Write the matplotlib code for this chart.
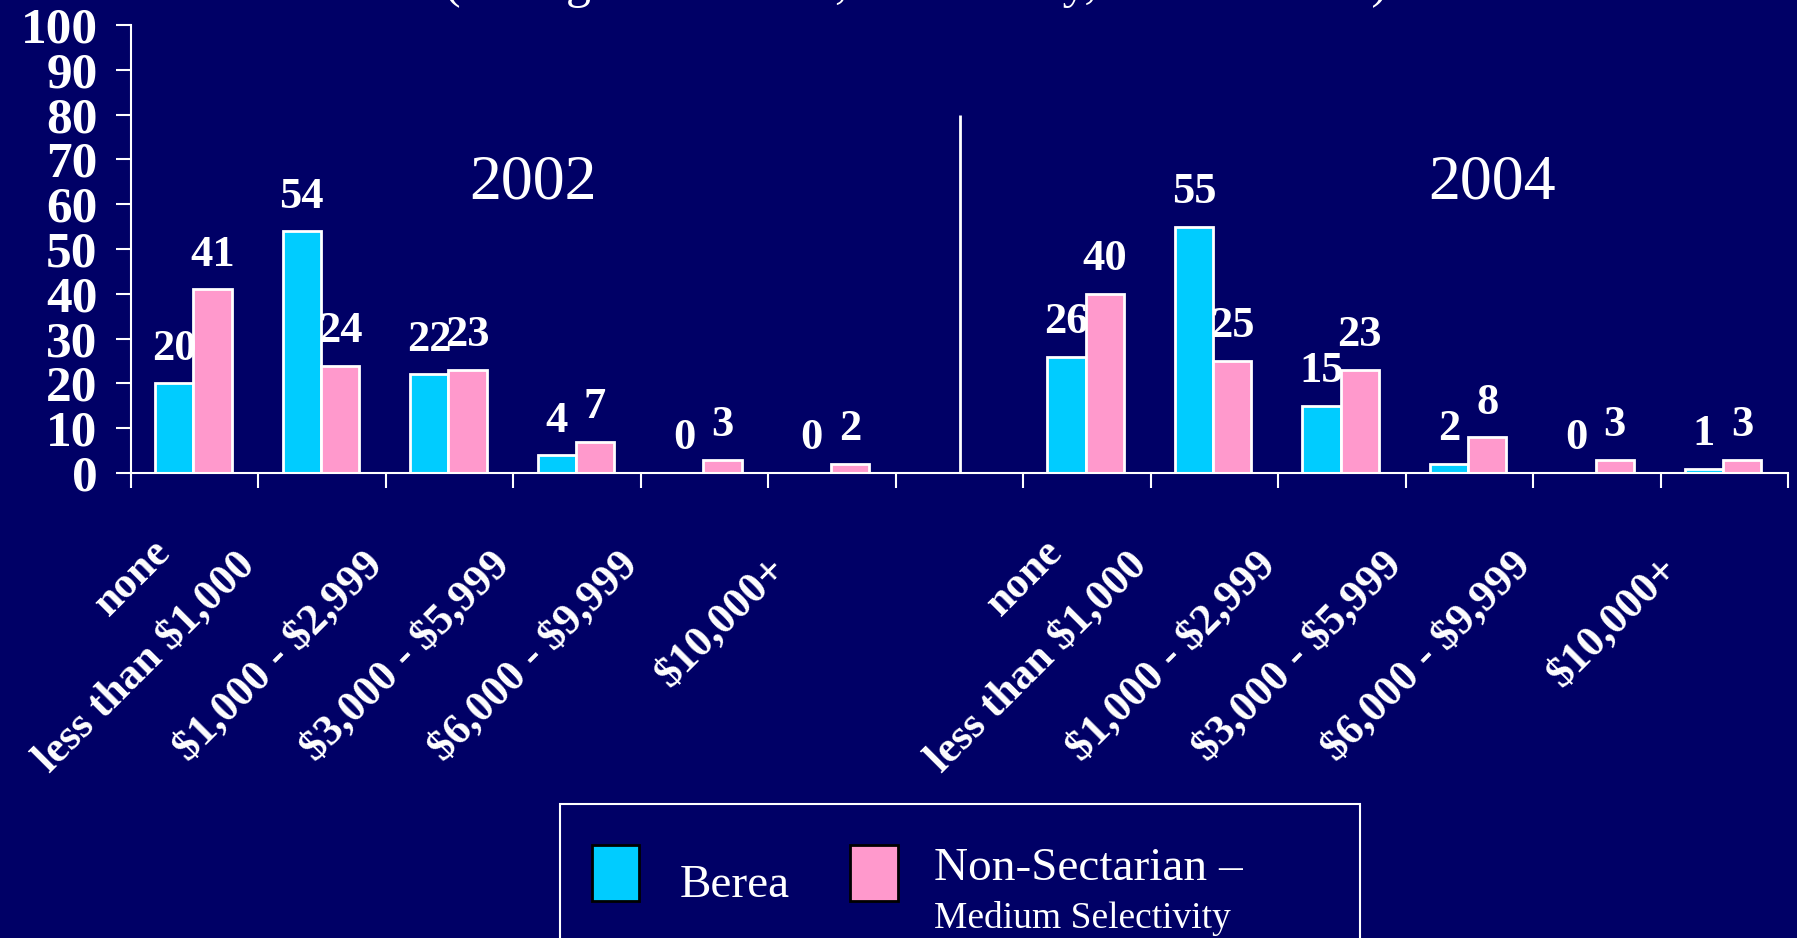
import matplotlib.pyplot as plt
from matplotlib.patches import Rectangle
import numpy as np

# dados
categorias = ["none", "less than \\$1,000", "\\$1,000 - \\$2,999", "\\$3,000 - \\$5,999",
              "\\$6,000 - \\$9,999", "\\$10,000+"]
anos = ["2002", "2004"]
berea_2002 = [20, 54, 22, 4, 0, 0]
nonsect_2002 = [41, 24, 23, 7, 3, 2]
berea_2004 = [26, 55, 15, 2, 0, 1]
nonsect_2004 = [40, 25, 23, 8, 3, 3]

fundo = "#000066"
azul = "#00CCFF"
rosa = "#FF99CC"
serif = ["Liberation Serif", "DejaVu Serif"]

fig = plt.figure(figsize=(17.97, 9.38), dpi=100, facecolor=fundo)
ax = fig.add_axes([0.0729, 0.4957, 0.9221, 0.4776])
ax.set_facecolor(fundo)

# posições: 6 categorias de 2002, uma vaga, 6 categorias de 2004
slots = np.concatenate([np.arange(6), np.arange(6) + 7])
berea = berea_2002 + berea_2004
nonsect = nonsect_2002 + nonsect_2004

w = 0.3
b1 = ax.bar(slots + 0.34, berea, w, color=azul, edgecolor="white", linewidth=2)
b2 = ax.bar(slots + 0.64, nonsect, w, color=rosa, edgecolor="white", linewidth=2)

for bars, vals in [(b1, berea), (b2, nonsect)]:
    for r, v in zip(bars, vals):
        ax.annotate(str(v), (r.get_x() + r.get_width() / 2, v),
                    xytext=(0, 17), textcoords="offset points",
                    ha="center", va="baseline", color="white",
                    fontsize=32, fontweight="bold", family=serif)

# linha divisória entre os anos
ax.vlines(6.5, 0, 80, color="white", linewidth=2)

# anos
ax.text(3.15, 64.7, anos[0], ha="center", va="center", color="white",
        fontsize=46, family=serif)
ax.text(10.68, 64.7, anos[1], ha="center", va="center", color="white",
        fontsize=46, family=serif)

ax.set_xlim(0, 13)
ax.set_ylim(0, 100)
ax.set_yticks(range(0, 101, 10))
ax.set_xticks(range(0, 14))
ax.set_xticklabels([])
ax.tick_params(axis="both", colors="white", direction="out", length=11, width=1.5)
ax.tick_params(axis="y", pad=13)
for lab in ax.get_yticklabels():
    lab.set_fontsize(37)
    lab.set_fontweight("bold")
    lab.set_family(serif)
    lab.set_color("white")
for s in ["top", "right"]:
    ax.spines[s].set_visible(False)
for s in ["left", "bottom"]:
    ax.spines[s].set_color("white")
    ax.spines[s].set_linewidth(1.5)

# rótulos das categorias (rodados 45 graus)
desloc = [-0.35, -0.69, -0.68, -0.69, -0.68, -0.52]
alturas = [-13.0, -16.0, -16.0, -16.0, -16.0, -17.0]
for base in [0, 7]:
    for i, cat in enumerate(categorias):
        ax.text(base + i + 0.5 + desloc[i], alturas[i], cat, rotation=45,
                rotation_mode="anchor", ha="right", va="top", color="white",
                fontsize=31.5, fontweight="bold", family=serif, clip_on=False)

# subtítulo cortado no topo
fig.text(0.51, 1.003, "(savings from work, work-study, other income)",
         ha="center", va="baseline", color="white", fontsize=36, family=serif)

# legenda desenhada à mão
fig.patches.append(Rectangle((0.3116, -0.02), 0.445, 0.1629, transform=fig.transFigure,
                             facecolor="none", edgecolor="white", linewidth=1.5))
fig.patches.append(Rectangle((592 / 1797, 1 - 901 / 938), 47 / 1797, 56 / 938,
                             transform=fig.transFigure, facecolor=azul,
                             edgecolor="black", linewidth=2))
fig.patches.append(Rectangle((850 / 1797, 1 - 901 / 938), 48 / 1797, 56 / 938,
                             transform=fig.transFigure, facecolor=rosa,
                             edgecolor="black", linewidth=2))
fig.text(680 / 1797, 1 - 897 / 938, "Berea", ha="left", va="baseline",
         color="white", fontsize=34, family=serif)
fig.text(934 / 1797, 1 - 880 / 938, "Non-Sectarian \u2013", ha="left", va="baseline",
         color="white", fontsize=34, family=serif)
fig.text(934 / 1797, 1 - 928 / 938, "Medium Selectivity", ha="left", va="baseline",
         color="white", fontsize=27, family=serif)

plt.savefig("out.png", facecolor=fundo)
